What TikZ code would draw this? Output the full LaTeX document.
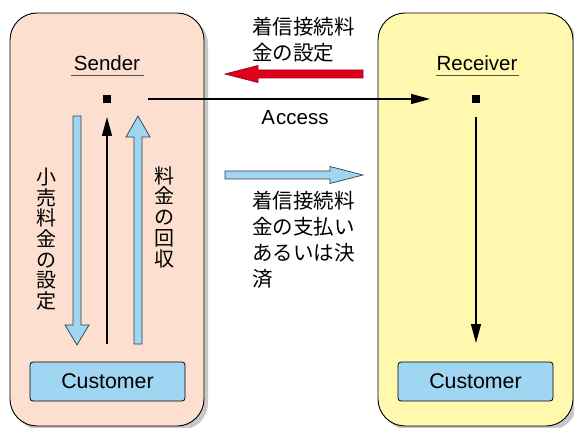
\documentclass[tikz,border=0pt]{standalone}
\usepackage{fontspec}
\setmainfont{Liberation Sans}
\newfontfamily\jp{Noto Sans CJK JP}
\usetikzlibrary{arrows.meta}
\definecolor{peach}{HTML}{FCDFCF}
\definecolor{lyellow}{HTML}{FFF8AE}
\definecolor{lblue}{HTML}{A0D6F2}
\definecolor{bred}{HTML}{E0001B}
\definecolor{shadowgray}{HTML}{C8C8C8}
\definecolor{ulinec}{HTML}{5E5040}
\begin{document}
\begin{tikzpicture}[x=1pt,y=-1pt,
  panel/.style={draw=black,line width=0.9pt,rounded corners=27pt},
  shadowbox/.style={fill=shadowgray,rounded corners=27pt},
  custbox/.style={draw=black,line width=0.8pt,fill=lblue,rounded corners=3pt,minimum width=155pt,minimum height=39pt,inner sep=0pt,font=\fontsize{21.3}{25}\selectfont},
  lbl/.style={inner sep=0pt,font=\fontsize{20.5}{24}\selectfont},
  jplbl/.style={inner sep=0pt,align=left,font=\jp\fontsize{20.5}{26}\selectfont},
  vlbl/.style={inner sep=0pt,align=center,font=\jp\fontsize{20}{20.7}\selectfont},
  dot/.style={fill=black,minimum size=8pt,inner sep=0pt},
  thinarrow/.style={line width=1.2pt,-{Triangle[length=19pt,width=10pt]}},
  ulinestyle/.style={draw=ulinec,line width=1pt},
  bluearrow/.style={fill=lblue,draw=black!70!lblue,line width=0.7pt},
  redarrow/.style={fill=bred,draw=bred!70!black,line width=0.7pt}
]
\useasboundingbox (0,0) rectangle (574,428);
% shadows
\fill[shadowbox] (14,17) rectangle (208,430);
\fill[shadowbox] (382,17) rectangle (577,430);
% panels
\draw[panel,fill=peach] (10,13) rectangle (204,426);
\draw[panel,fill=lyellow] (378,13) rectangle (573,426);

% titles
\node[lbl] (sender) at (107,63) {Sender};
\node[lbl] (receiver) at (477,63) {Receiver};
\coordinate (su1) at (71,76); \coordinate (su2) at (144,76);
\coordinate (ru1) at (436,76); \coordinate (ru2) at (519,76);
\draw[ulinestyle] (su1) -- (su2);
\draw[ulinestyle] (ru1) -- (ru2);

% dots
\node[dot] (sdot) at (107,99) {};
\node[dot] (rdot) at (476,99) {};

% customers
\node[custbox] (cust1) at (107.5,381.5) {Customer};
\node[custbox] (cust2) at (475.5,381.5) {Customer};

% access arrow
\coordinate (accstart) at (148,99);
\coordinate (accend) at (430,99);
\draw[thinarrow] (accstart) -- (accend);
\node[lbl] (access) at (295,118) {A\kern1pt ccess};

% left black up arrow
\coordinate (lup1) at (107,344);
\coordinate (lup2) at (107,117);
\draw[thinarrow] (lup1) -- (lup2);
% right black down arrow
\coordinate (rdn1) at (476,117);
\coordinate (rdn2) at (476,343);
\draw[thinarrow] (rdn1) -- (rdn2);

% blue down arrow (left)
\draw[bluearrow] (73,116) -- (81,116) -- (81,325) -- (89,325) -- (77,345) -- (65,325) -- (73,325) -- cycle;
% blue up arrow
\draw[bluearrow] (134,344) -- (142,344) -- (142,137) -- (150,137) -- (138,116) -- (126,137) -- (134,137) -- cycle;
% red left arrow
\draw[redarrow] (363,70) -- (258,70) -- (258,65.5) -- (225,74) -- (258,82.5) -- (258,78) -- (363,78) -- cycle;
% blue right arrow
\draw[bluearrow] (225,171) -- (330,171) -- (330,166.5) -- (363,175) -- (330,183.5) -- (330,179) -- (225,179) -- cycle;

% labels
\node[jplbl,anchor=west] (redlbl) at (252,40) {着信接続料\\金の設定};
\node[jplbl,anchor=west] (bluelbl) at (252,240) {着信接続料\\金の支払い\\あるいは決\\済};
\node[vlbl] (vl1) at (47,239) {小\\売\\料\\金\\の\\設\\定};
\node[vlbl] (vl2) at (164,217) {料\\金\\の\\回\\収};
\end{tikzpicture}
\end{document}
